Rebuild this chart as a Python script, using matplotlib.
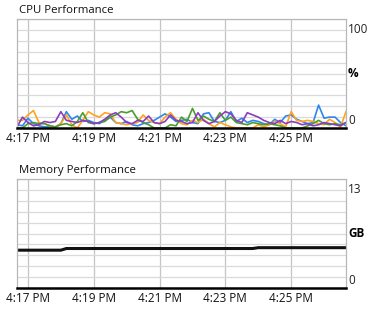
import matplotlib
matplotlib.use("Agg")
import matplotlib.pyplot as plt
import matplotlib.dates as mdates
import pandas as pd
import numpy as np

plt.rcParams['font.family'] = ['Open Sans', 'DejaVu Sans']

start_time = "2024-01-01 16:16:40"
sample_seconds = 10

cpu_blue = [3,2,9,4,2,1,1,1,4,15,8,11,6,7,5,4,7,10,5,4,6,3,2,4,5,7,10,13,10,6,7,8,5,4,13,14,6,5,7,15,6,9,5,7,6,4,3,8,5,11,12,8,6,4,5,21,9,10,10,5,2]
cpu_orange = [7,7,12,16,5,4,2,1,4,12,3,0,7,15,12,10,14,13,5,4,3,4,5,12,7,5,4,10,14,8,4,3,7,5,8,4,1,5,3,1,0,0,0,0,3,1,3,6,4,1,15,7,6,7,6,4,3,8,5,1,15]
cpu_green = [0,0,4,5,4,4,2,1,3,4,2,6,14,5,4,5,6,10,12,15,14,16,8,5,3,0,0,0,3,2,10,6,18,7,11,8,6,14,7,10,5,4,3,5,4,3,4,3,2,0,0,0,0,2,4,7,4,3,4,3,5]
cpu_purple = [1,10,5,2,3,6,5,6,15,7,6,5,7,6,4,5,8,12,14,10,5,4,7,6,11,5,4,6,12,7,6,4,5,14,7,4,6,11,15,13,7,5,14,12,10,7,5,4,7,4,6,5,3,4,2,3,5,4,3,2,5]
memory_gb = [4.5]*9 + [4.7]*35 + [4.8]*17

tick_labels = ["4:17 PM", "4:19 PM", "4:21 PM", "4:23 PM", "4:25 PM"]
tick_times = ["2024-01-01 16:17", "2024-01-01 16:19", "2024-01-01 16:21", "2024-01-01 16:23", "2024-01-01 16:25"]

times = pd.date_range(start_time, periods=len(cpu_blue), freq=f"{sample_seconds}s")
tt = pd.to_datetime(tick_times)

W, H = 379, 310
fig = plt.figure(figsize=(W/100, H/100), dpi=100)
fig.patch.set_facecolor('white')

def setup(ax, ymax, toplabel, unit, title):
    ax.set_xlim(times[0], times[-1])
    ax.set_ylim(0, ymax)
    ax.set_yticks(np.linspace(0, ymax, 11))
    ax.set_yticklabels([])
    ax.tick_params(axis='y', length=0)
    ax.set_xticks(tt)
    ax.set_xticklabels(tick_labels, fontsize=8.5, color='#111')
    ax.tick_params(axis='x', length=0, pad=3)
    ax.grid(axis='y', color='#dadada', lw=0.9)
    ax.grid(axis='x', color='#c4c4c4', lw=0.9)
    ax.set_axisbelow(True)
    for s in ['top', 'left', 'right']:
        ax.spines[s].set_color('#b8b8b8')
        ax.spines[s].set_linewidth(0.9)
    ax.spines['bottom'].set_color('black')
    ax.spines['bottom'].set_linewidth(1.8)
    ax.text(1.006, 0.965, toplabel, transform=ax.transAxes, ha='left', va='top', fontsize=8.5, color='#222')
    ax.text(1.006, 0.01, "0", transform=ax.transAxes, ha='left', va='bottom', fontsize=8.5, color='#222')
    ax.text(1.006, 0.5, unit, transform=ax.transAxes, ha='left', va='center', fontsize=8.5, color='black', fontweight='bold')
    ax.text(0.005, 1.03, title, transform=ax.transAxes, ha='left', va='bottom', fontsize=8.2, color='#111')

ax1 = fig.add_axes([17/W, 1-128/H, 329/W, 109/H])
setup(ax1, 100, "100", "%", "CPU Performance")
ax1.plot(times, cpu_blue, color='#2f86f0', lw=1.2)
ax1.plot(times, cpu_orange, color='#ffa41c', lw=1.2)
ax1.plot(times, cpu_green, color='#4b9e2a', lw=1.2)
ax1.plot(times, cpu_purple, color='#8a3dbf', lw=1.2)

ax2 = fig.add_axes([17/W, 1-287.7/H, 329/W, 108.4/H])
setup(ax2, 13, "13", "GB", "Memory Performance")
ax2.plot(times, memory_gb, color='#111', lw=2.2)

fig.savefig("out.png", dpi=100, facecolor='white')
